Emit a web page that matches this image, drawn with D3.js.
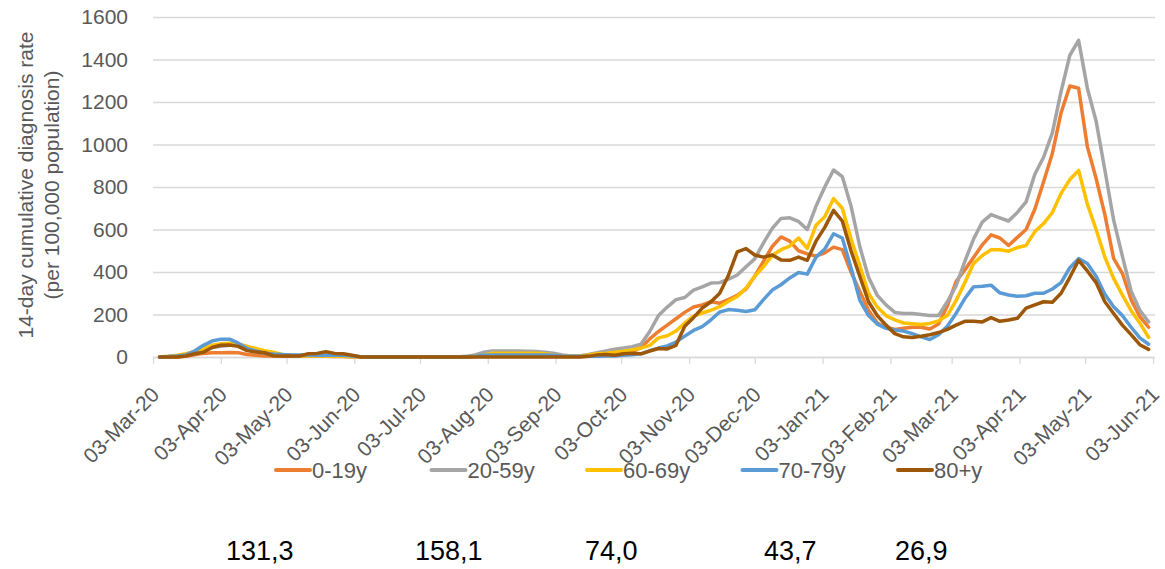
<!DOCTYPE html>
<html>
<head>
<meta charset="utf-8">
<script src="https://cdn.jsdelivr.net/npm/d3@7"></script>
<style>
  body { margin: 0; background: #fff; }
  text { font-family: "Liberation Sans", Arial, sans-serif; }
</style>
</head>
<body>
<div id="chart"></div>
<script>
// sample dates (every 4 days)
const dates = [
  "2020-03-06","2020-03-10","2020-03-14","2020-03-18","2020-03-22","2020-03-26","2020-03-30","2020-04-03",
  "2020-04-07","2020-04-11","2020-04-15","2020-04-19","2020-04-23","2020-04-27","2020-05-01","2020-05-05",
  "2020-05-09","2020-05-13","2020-05-17","2020-05-21","2020-05-25","2020-05-29","2020-06-02","2020-06-06",
  "2020-06-10","2020-06-14","2020-06-18","2020-06-22","2020-06-26","2020-06-30","2020-07-04","2020-07-08",
  "2020-07-12","2020-07-16","2020-07-20","2020-07-24","2020-07-28","2020-08-01","2020-08-05","2020-08-09",
  "2020-08-13","2020-08-17","2020-08-21","2020-08-25","2020-08-29","2020-09-02","2020-09-06","2020-09-10",
  "2020-09-14","2020-09-18","2020-09-22","2020-09-26","2020-09-30","2020-10-04","2020-10-08","2020-10-12",
  "2020-10-16","2020-10-20","2020-10-24","2020-10-28","2020-11-01","2020-11-05","2020-11-09","2020-11-13",
  "2020-11-17","2020-11-21","2020-11-25","2020-11-29","2020-12-03","2020-12-07","2020-12-11","2020-12-15",
  "2020-12-19","2020-12-23","2020-12-27","2020-12-31","2021-01-04","2021-01-08","2021-01-12","2021-01-16",
  "2021-01-20","2021-01-24","2021-01-28","2021-02-01","2021-02-05","2021-02-09","2021-02-13","2021-02-17",
  "2021-02-21","2021-02-25","2021-03-01","2021-03-05","2021-03-09","2021-03-13","2021-03-17","2021-03-21",
  "2021-03-25","2021-03-29","2021-04-02","2021-04-06","2021-04-10","2021-04-14","2021-04-18","2021-04-22",
  "2021-04-26","2021-04-30","2021-05-04","2021-05-08","2021-05-12","2021-05-16","2021-05-20","2021-05-24",
  "2021-05-28","2021-06-01"
];

const groups = ["0-19y", "20-59y", "60-69y", "70-79y", "80+y"];
const colors = ["#ED7D31", "#A5A5A5", "#FFC000", "#5B9BD5", "#9C5708"];

const rate0_19 = [
  0,0,0,3, 10,17,20,20,21,20,
  12,8,5,5,4,4,4,3,3,3,2,2,
  1,0,0,0,0,0,0,0,0,0,0,0,0,0,2,
  6,8,8,8,8,7,6,5,4, 3,2,2,3,
  5,10,12,15,25,45,85,120,150,180,
  210,235,245,260,253,270,290,320,380,450,
  520,565,545,500,485,475,490,517,505,400,
  310,220,160,140,130,135,140,140,132,155,
  240,355,410,468,528,575,560,525,563,600,
  695,825,958,1150,1275,1265,990,840,670,464,
  394,270,190,140
];
const rate20_59 = [
  0,2,5,10, 20,35,45,50,55,58,
  50,30,20,12,8,6,5,5,5,5,5,4,
  2,0,0,0,0,0,0,0,0,0,0,0,0,3,10,
  22,28,28,28,28,27,26,22,18, 10,5,5,12,
  20,28,37,42,48,60,120,195,235,270,
  280,315,330,348,350,366,386,425,462,537,
  605,652,655,638,600,710,800,880,849,710,
  520,375,290,245,210,205,205,200,195,195,
  260,335,450,555,635,670,655,640,680,730,
  860,940,1055,1250,1420,1490,1265,1110,880,645,
  475,310,220,165
];
const rate60_69 = [
  0,3,8,15, 25,40,55,62,65,62,
  50,40,30,22,12,8,6,5,5,4,4,3,
  1,0,0,0,0,0,0,0,0,0,0,0,0,0,3,
  8,18,18,18,18,18,18,15,10, 5,3,5,10,
  15,18,22,27,33,42,55,90,100,122,
  160,192,207,220,237,262,285,325,380,425,
  478,505,522,560,511,620,660,745,700,555,
  430,300,235,195,175,160,157,153,158,170,
  195,265,350,440,478,505,505,498,515,525,
  590,628,680,770,835,878,720,600,470,370,
  292,218,160,92
];
const rate70_79 = [
  0,2,5,10, 28,55,75,84,84,65,
  40,28,18,14,12,10,10,9,8,8,8,8,
  5,1,0,0,0,0,0,0,0,0,0,0,0,0,3,
  8,10,10,10,10,10,10,10,8, 5,3,3,3,
  3,5,5,8,10,15,30,42,52,70,
  98,125,143,175,212,223,220,214,222,270,
  315,340,372,398,390,470,508,580,560,420,
  268,195,155,135,127,122,110,95,82,105,
  145,205,275,330,333,338,302,292,286,288,
  300,300,320,350,420,463,440,380,295,236,
  195,140,90,60
];
const rate80 = [
  0,0,0,5, 15,22,45,55,56,50,
  30,23,20,6,5,5,5,15,17,25,17,15,
  8,0,0,0,0,0,0,0,0,0,0,0,0,0,0,
  0,0,0,0,0,0,0,0,0, 0,0,0,3,
  10,12,8,15,18,15,28,40,38,55,
  145,185,230,260,300,385,495,510,480,470,
  480,457,455,470,455,545,610,690,640,500,
  380,260,195,150,110,95,92,98,105,115,
  130,150,168,168,165,185,168,174,182,230,
  245,260,258,300,375,455,405,350,260,205,
  150,105,58,36
];

const yTicks = [0, 200, 400, 600, 800, 1000, 1200, 1400, 1600];
const xTicks = [
  "2020-03-03","2020-04-03","2020-05-03","2020-06-03","2020-07-03","2020-08-03","2020-09-03","2020-10-03",
  "2020-11-03","2020-12-03","2021-01-03","2021-02-03","2021-03-03","2021-04-03","2021-05-03","2021-06-03"
];
const lastValues = ["131,3", "158,1", "74,0", "43,7", "26,9"];
const yTitle = ["14-day cumulative diagnosis rate", "(per 100,000 population)"];

// layout
const W = 1165, H = 569;
const plot = {left: 153, right: 1153, top: 17, bottom: 357};
const noteX = [226, 415, 585, 764, 895];

const parse = d3.timeParse("%Y-%m-%d");
const allRates = [rate0_19, rate20_59, rate60_69, rate70_79, rate80];
const series = groups.map((g, i) => ({
  key: g,
  color: colors[i],
  values: dates.map((d, j) => ({date: parse(d), value: allRates[i][j]}))
}));

const svg = d3.select("#chart").append("svg")
    .attr("width", W)
    .attr("height", H)
    .style("background", "#fff");

let x = d3.scaleTime()
    .domain([parse(xTicks[0]), parse(xTicks[xTicks.length - 1])])
    .range([plot.left, plot.right]);
let y = d3.scaleLinear()
    .domain([0, 1600])
    .range([plot.bottom, plot.top]);

// gridlines
svg.append("g")
    .attr("transform", `translate(${plot.left},0)`)
    .call(d3.axisLeft(y).tickValues(yTicks).tickSize(-(plot.right - plot.left + 2)).tickFormat(""))
    .call(g => g.select(".domain").remove())
    .call(g => g.selectAll("line").attr("stroke", "#d9d9d9").attr("stroke-width", 1.3));

// y labels
svg.append("g")
    .attr("transform", `translate(${plot.left - 25},0)`)
    .call(d3.axisLeft(y).tickValues(yTicks).tickSize(0).tickFormat(d3.format("d")))
    .call(g => g.select(".domain").remove())
    .call(g => g.selectAll("text")
        .attr("fill", "#595959")
        .style("font-size", "21px")
        .attr("x", 0));

// x axis
let xAxis = svg.append("g")
    .attr("transform", `translate(0,${plot.bottom})`)
    .call(d3.axisBottom(x).tickValues(xTicks.map(parse)).tickSize(7).tickSizeOuter(0)
        .tickFormat(d3.timeFormat("%d-%b-%y")));
xAxis.select(".domain").attr("stroke", "#d9d9d9").attr("stroke-width", 1.3);
xAxis.selectAll("line").attr("stroke", "#d9d9d9").attr("stroke-width", 1.3);
xAxis.selectAll("text")
    .attr("fill", "#595959")
    .style("font-size", "21px")
    .attr("text-anchor", "end")
    .attr("x", 0).attr("y", 0).attr("dy", null)
    .attr("transform", "translate(7,39) rotate(-45)");

// y title
svg.append("g")
    .attr("transform", "translate(33,185) rotate(-90)")
    .selectAll("text")
    .data(yTitle)
    .join("text")
    .attr("x", 0)
    .attr("y", (d, i) => i * 26)
    .attr("text-anchor", "middle")
    .attr("fill", "#595959")
    .style("font-size", "21px")
    .text(d => d);

// lines
const line = d3.line()
    .x(d => x(d.date))
    .y(d => y(d.value));

svg.append("g")
    .selectAll("path")
    .data(series)
    .join("path")
    .attr("fill", "none")
    .attr("stroke", d => d.color)
    .attr("stroke-width", 3.5)
    .attr("stroke-linejoin", "round")
    .attr("stroke-linecap", "round")
    .attr("d", d => line(d.values));

// legend
const legend = svg.append("g")
    .selectAll("g")
    .data(series)
    .join("g")
    .attr("transform", (d, i) => `translate(${274 + i * 155.5},470)`);
legend.append("line")
    .attr("x1", 2).attr("x2", 36)
    .attr("stroke", d => d.color)
    .attr("stroke-width", 4)
    .attr("stroke-linecap", "round");
legend.append("text")
    .attr("x", 38)
    .attr("dy", "0.35em")
    .attr("fill", "#595959")
    .style("font-size", "22px")
    .text(d => d.key);

// values below the legend
svg.append("g")
    .selectAll("text")
    .data(lastValues)
    .join("text")
    .attr("x", (d, i) => noteX[i])
    .attr("y", 560)
    .attr("fill", "#000")
    .style("font-size", "27px")
    .text(d => d);
</script>
</body>
</html>
